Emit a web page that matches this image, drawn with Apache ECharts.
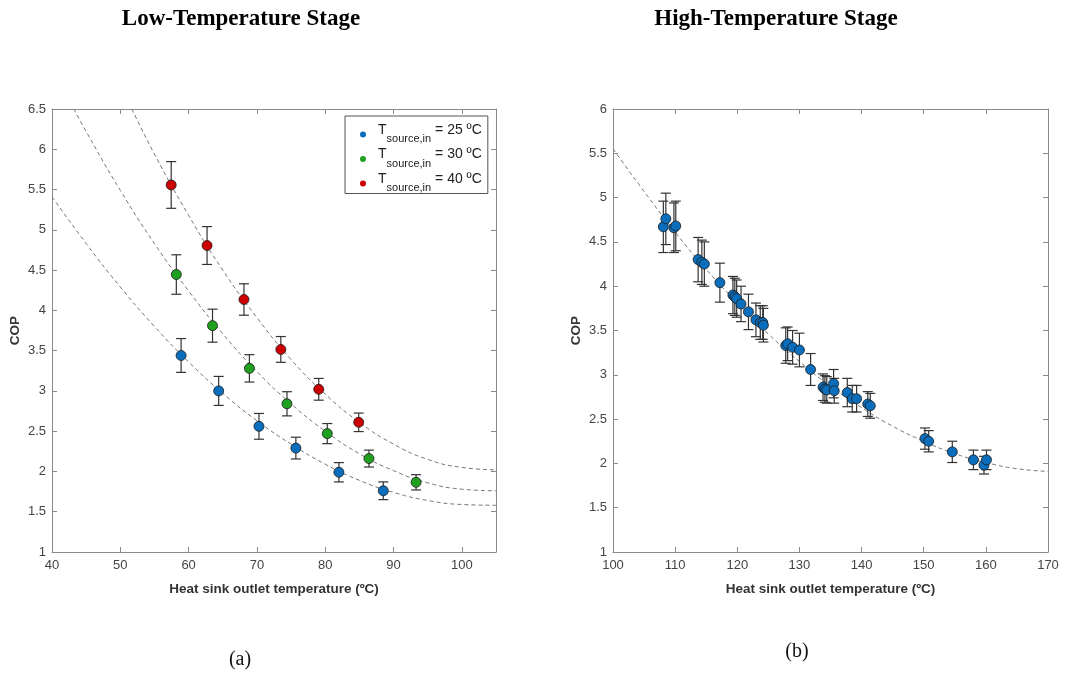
<!DOCTYPE html>
<html>
<head>
<meta charset="utf-8">
<script src="https://cdn.jsdelivr.net/npm/echarts@6/dist/echarts.min.js"></script>
<style>
html, body { margin: 0; padding: 0; background: #fff; }
#main { width: 1074px; height: 676px; }
</style>
</head>
<body>
<div id="main"></div>
<script>
// ---- (a) low-temperature stage: measured COP with error bars ----
var blueX   = [58.9, 64.4, 70.3, 75.7, 82.0, 88.5];
var blueCOP = [3.44, 3.00, 2.56, 2.29, 1.99, 1.76];
var blueErr = [0.21, 0.18, 0.16, 0.135, 0.12, 0.11];

var greenX   = [58.2, 63.5, 68.9, 74.4, 80.3, 86.4, 93.3];
var greenCOP = [4.445, 3.81, 3.28, 2.84, 2.47, 2.16, 1.865];
var greenErr = [0.245, 0.205, 0.17, 0.15, 0.125, 0.105, 0.095];

var redX   = [57.45, 62.7, 68.1, 73.5, 79.05, 84.9];
var redCOP = [5.557, 4.805, 4.135, 3.515, 3.02, 2.61];
var redErr = [0.29, 0.235, 0.195, 0.16, 0.135, 0.115];

// dashed fit curves
var blueFitX = [40, 45, 50, 55, 60, 65, 70, 75, 80, 85, 90, 95, 100, 105];
var blueFit  = [5.41, 4.83, 4.29, 3.80, 3.36, 2.97, 2.63, 2.34, 2.09, 1.89, 1.74, 1.64, 1.59, 1.58];
var greenFitX = [43.2, 45, 50, 55, 60, 65, 70, 75, 80, 85, 90, 95, 100, 105];
var greenFit  = [6.5, 6.22, 5.49, 4.83, 4.24, 3.71, 3.24, 2.84, 2.50, 2.22, 2.01, 1.86, 1.78, 1.76];
var redFitX = [51.7, 55, 60, 65, 70, 75, 80, 85, 90, 95, 100, 105];
var redFit  = [6.5, 5.94, 5.18, 4.50, 3.91, 3.39, 2.96, 2.61, 2.34, 2.15, 2.05, 2.02];

// ---- (b) high-temperature stage ----
var highX = [108.1, 108.5, 109.8, 110.1, 113.7, 114.3, 114.7, 117.2, 119.3, 119.6,
             119.9, 120.6, 121.8, 123.0, 123.7, 124.1, 124.2, 127.8, 128.1, 128.9,
             130.0, 131.8, 133.8, 134.1, 134.4, 135.5, 135.6, 137.7, 138.5, 139.2,
             141.0, 141.4, 150.2, 150.8, 154.6, 158.0, 159.7, 160.1];
var highCOP = [4.67, 4.76, 4.66, 4.68, 4.30, 4.27, 4.25, 4.04, 3.90, 3.88,
               3.86, 3.80, 3.71, 3.62, 3.59, 3.59, 3.56, 3.33, 3.35, 3.31,
               3.28, 3.06, 2.86, 2.84, 2.83, 2.90, 2.82, 2.80, 2.73, 2.73,
               2.67, 2.65, 2.28, 2.25, 2.13, 2.04, 1.98, 2.04];
var highErr = [0.29, 0.29, 0.28, 0.28, 0.25, 0.25, 0.25, 0.22, 0.21, 0.21,
               0.21, 0.20, 0.20, 0.19, 0.19, 0.19, 0.19, 0.20, 0.19, 0.19,
               0.19, 0.18, 0.15, 0.15, 0.15, 0.16, 0.14, 0.16, 0.15, 0.15,
               0.14, 0.14, 0.12, 0.12, 0.12, 0.11, 0.10, 0.11];
var highFitX = [100, 105, 110, 115, 120, 125, 130, 135, 140, 145, 150, 155, 160, 165, 170];
var highFit  = [5.55, 5.07, 4.61, 4.19, 3.81, 3.46, 3.15, 2.87, 2.63, 2.42, 2.25, 2.11, 2.01, 1.94, 1.91];

var labelFont = 'Liberation Sans, Arial, sans-serif';
var serifFont = 'Liberation Serif, Times New Roman, serif';

function pairs(xs, ys) {
    return xs.map(function (x, i) { return [x, ys[i]]; });
}
function bars(xs, ys, es) {
    return xs.map(function (x, i) { return [x, ys[i] - es[i], ys[i] + es[i]]; });
}

function renderErr(params, api) {
    var x = api.value(0);
    var top = api.coord([x, api.value(2)]);
    var bot = api.coord([x, api.value(1)]);
    var w = 5;
    var st = { stroke: '#333', lineWidth: 1.2 };
    return {
        type: 'group',
        children: [
            { type: 'line', shape: { x1: top[0], y1: top[1], x2: bot[0], y2: bot[1] }, style: st },
            { type: 'line', shape: { x1: top[0] - w, y1: top[1], x2: top[0] + w, y2: top[1] }, style: st },
            { type: 'line', shape: { x1: bot[0] - w, y1: bot[1], x2: bot[0] + w, y2: bot[1] }, style: st }
        ]
    };
}

function xAx(grid, min, max, pos) {
    var main = pos === 'bottom';
    return {
        type: 'value', gridIndex: grid, position: pos,
        min: min, max: max, interval: 10,
        name: main ? 'Heat sink outlet temperature (ºC)' : '',
        nameLocation: 'middle', nameGap: 30,
        nameTextStyle: { fontFamily: labelFont, fontWeight: 'bold', fontSize: 13.5, color: '#333' },
        axisLine: { show: true, onZero: false, lineStyle: { color: '#8a8a8a', width: 1 } },
        axisTick: { show: true, inside: true, length: 5, lineStyle: { color: '#8a8a8a' } },
        axisLabel: { show: main, showMaxLabel: max === 170, fontFamily: labelFont, fontSize: 13, color: '#444', margin: 7 },
        splitLine: { show: false }
    };
}
function yAx(grid, max, pos) {
    var main = pos === 'left';
    return {
        type: 'value', gridIndex: grid, position: pos,
        min: 1, max: max, interval: 0.5,
        name: main ? 'COP' : '',
        nameLocation: 'middle', nameGap: 30,
        nameTextStyle: { fontFamily: labelFont, fontWeight: 'bold', fontSize: 13.5, color: '#333' },
        axisLine: { show: true, onZero: false, lineStyle: { color: '#8a8a8a', width: 1 } },
        axisTick: { show: true, inside: true, length: 5, lineStyle: { color: '#8a8a8a' } },
        axisLabel: { show: main, fontFamily: labelFont, fontSize: 13, color: '#444', margin: 6 },
        splitLine: { show: false }
    };
}

function fitLine(name, xi, yi, xs, ys) {
    return {
        name: name, type: 'line', xAxisIndex: xi, yAxisIndex: yi,
        data: pairs(xs, ys), smooth: true, showSymbol: false, silent: true, z: 1,
        lineStyle: { color: '#777', width: 1, type: [4, 3] }
    };
}
function errSeries(name, xi, yi, data) {
    return {
        name: name, type: 'custom', xAxisIndex: xi, yAxisIndex: yi,
        data: data, renderItem: renderErr, encode: { x: 0, y: [1, 2] }, z: 2, silent: true
    };
}
function pointSeries(name, xi, yi, data, color) {
    return {
        name: name, type: 'scatter', xAxisIndex: xi, yAxisIndex: yi,
        data: data, symbolSize: 10, z: 3,
        itemStyle: { color: color, borderColor: '#1a1a1a', borderWidth: 0.8, opacity: 1 }
    };
}

var L25 = 'Tsource,in = 25 ºC', L30 = 'Tsource,in = 30 ºC', L40 = 'Tsource,in = 40 ºC';
var cBlue = '#0a6ebd', cGreen = '#1fa01f', cRed = '#cc0000';

var chart = echarts.init(document.getElementById('main'));
chart.setOption({
    backgroundColor: '#fff',
    animation: false,
    grid: [
        { left: 52, top: 109, width: 444, height: 443 },
        { left: 613, top: 109, width: 435, height: 443 }
    ],
    xAxis: [xAx(0, 40, 105, 'bottom'), xAx(0, 40, 105, 'top'), xAx(1, 100, 170, 'bottom'), xAx(1, 100, 170, 'top')],
    yAxis: [yAx(0, 6.5, 'left'), yAx(0, 6.5, 'right'), yAx(1, 6, 'left'), yAx(1, 6, 'right')],
    legend: {
        data: [L25, L30, L40],
        orient: 'vertical', left: 345, top: 116,
        icon: 'circle', itemWidth: 20, itemHeight: 6, itemGap: 3,
        padding: [7, 6, 0, 15],
        borderColor: '#555', borderWidth: 1, backgroundColor: '#fff',
        itemStyle: { borderWidth: 0 },
        formatter: function (name) {
            return '{t|T}{s|source,in}{t| =' + name.split('=')[1] + '}';
        },
        textStyle: {
            fontFamily: labelFont, color: '#222',
            rich: {
                t: { fontFamily: labelFont, fontSize: 14, color: '#222', padding: [0, 0, 9, 0] },
                s: { fontFamily: labelFont, fontSize: 11, color: '#222', padding: [9, 0, 0, 0] }
            }
        }
    },
    graphic: [
        { type: 'text', x: 241, y: 19, style: { text: 'Low-Temperature Stage', font: 'bold 23px ' + serifFont, fill: '#000', align: 'center', verticalAlign: 'middle' } },
        { type: 'text', x: 776, y: 19, style: { text: 'High-Temperature Stage', font: 'bold 23px ' + serifFont, fill: '#000', align: 'center', verticalAlign: 'middle' } },
        { type: 'text', x: 240, y: 660, style: { text: '(a)', font: '20px ' + serifFont, fill: '#111', align: 'center', verticalAlign: 'middle' } },
        { type: 'text', x: 797, y: 652, style: { text: '(b)', font: '20px ' + serifFont, fill: '#111', align: 'center', verticalAlign: 'middle' } }
    ],
    series: [
        fitLine('fit25', 0, 0, blueFitX, blueFit),
        fitLine('fit30', 0, 0, greenFitX, greenFit),
        fitLine('fit40', 0, 0, redFitX, redFit),
        errSeries('err25', 0, 0, bars(blueX, blueCOP, blueErr)),
        errSeries('err30', 0, 0, bars(greenX, greenCOP, greenErr)),
        errSeries('err40', 0, 0, bars(redX, redCOP, redErr)),
        pointSeries(L25, 0, 0, pairs(blueX, blueCOP), cBlue),
        pointSeries(L30, 0, 0, pairs(greenX, greenCOP), cGreen),
        pointSeries(L40, 0, 0, pairs(redX, redCOP), cRed),
        fitLine('fitHigh', 2, 2, highFitX, highFit),
        errSeries('errHigh', 2, 2, bars(highX, highCOP, highErr)),
        pointSeries('High', 2, 2, pairs(highX, highCOP), cBlue)
    ]
});
</script>
</body>
</html>
